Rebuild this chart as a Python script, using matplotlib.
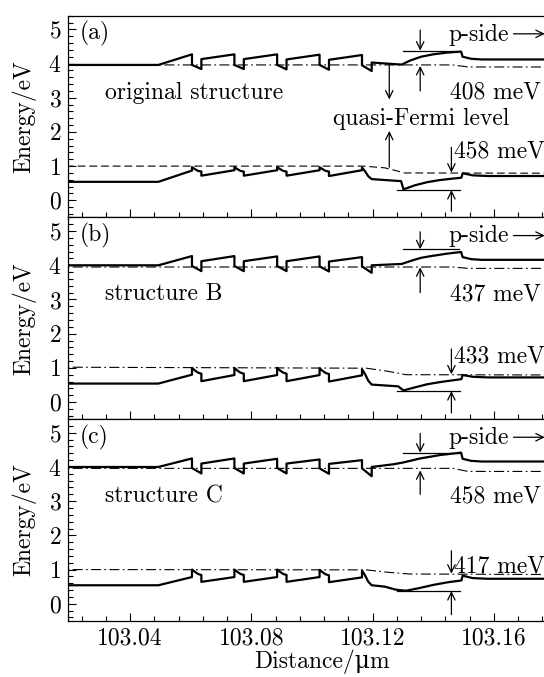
import matplotlib
matplotlib.use('Agg')
import matplotlib.pyplot as plt
from matplotlib.ticker import MultipleLocator, FormatStrFormatter

plt.rcParams['font.family'] = ['cmr10', 'DejaVu Serif']
plt.rcParams['axes.formatter.use_mathtext'] = True
plt.rcParams['font.size'] = 17

# ---- band profiles (x in um, energy in eV) ----
# conduction band, shared x for the MQW part
cb_x_mqw = [103.015, 103.0493, 103.0604, 103.0604, 103.0635, 103.0635, 103.0744, 103.0744,
            103.0775, 103.0775, 103.0885, 103.0885, 103.0916, 103.0916, 103.1025, 103.1025,
            103.1056, 103.1056, 103.1165, 103.1165, 103.1197, 103.1197]
cb_y_mqw_a = [3.96, 3.96, 4.27, 3.96, 3.84, 4.13, 4.27, 3.96, 3.84, 4.13, 4.27, 3.96,
              3.83, 4.12, 4.26, 3.96, 3.82, 4.11, 4.25, 3.95, 3.78, 4.03]
cb_y_mqw_b = [4.00, 4.00, 4.27, 3.98, 3.83, 4.12, 4.27, 3.98, 3.83, 4.12, 4.26, 3.98,
              3.83, 4.12, 4.26, 3.97, 3.82, 4.11, 4.24, 3.97, 3.78, 4.00]
cb_y_mqw_c = [4.00, 4.00, 4.25, 3.97, 3.81, 4.10, 4.25, 3.97, 3.81, 4.10, 4.24, 3.97,
              3.81, 4.10, 4.22, 3.96, 3.80, 4.09, 4.20, 3.96, 3.73, 4.00]
# last barrier + EBL + p-side
cb_x_ebl_a = [103.1296, 103.1324, 103.1360, 103.1400, 103.1445, 103.1492, 103.1497, 103.1525, 103.1560, 103.19]
cb_y_ebl_a = [3.97, 4.09, 4.20, 4.27, 4.32, 4.35, 4.20, 4.14, 4.12, 4.12]
cb_x_ebl_b = [103.1296, 103.1330, 103.1360, 103.1400, 103.1445, 103.1492, 103.1497, 103.1525, 103.1560, 103.19]
cb_y_ebl_b = [4.04, 4.14, 4.22, 4.28, 4.34, 4.39, 4.24, 4.18, 4.16, 4.16]
cb_x_ebl_c = [103.1269, 103.1300, 103.1357, 103.1423, 103.1492, 103.1497, 103.1525, 103.1560, 103.19]
cb_y_ebl_c = [4.08, 4.13, 4.25, 4.35, 4.42, 4.24, 4.18, 4.16, 4.16]

# valence band
vb_x_mqw = [103.015, 103.0493, 103.0604, 103.0604, 103.0614, 103.0624, 103.0635, 103.0635,
            103.0744, 103.0744, 103.0754, 103.0764, 103.0775, 103.0775,
            103.0885, 103.0885, 103.0895, 103.0905, 103.0916, 103.0916,
            103.1025, 103.1025, 103.1035, 103.1045, 103.1056, 103.1056,
            103.1165, 103.1165, 103.1175, 103.1186, 103.1197]
vb_y_mqw_a = [0.54, 0.54, 0.87, 0.97, 0.91, 0.86, 0.84, 0.72,
              0.88, 0.97, 0.91, 0.86, 0.84, 0.72,
              0.88, 0.97, 0.91, 0.86, 0.84, 0.72,
              0.88, 0.97, 0.91, 0.86, 0.84, 0.71,
              0.88, 0.96, 0.85, 0.70, 0.62]
vb_y_mqw_b = [0.54, 0.54, 0.80, 1.00, 0.92, 0.86, 0.83, 0.61,
              0.79, 1.00, 0.92, 0.86, 0.83, 0.61,
              0.79, 1.00, 0.92, 0.86, 0.83, 0.61,
              0.79, 0.99, 0.91, 0.85, 0.82, 0.60,
              0.78, 0.96, 0.82, 0.62, 0.51]
vb_y_mqw_c = [0.54, 0.54, 0.78, 1.00, 0.93, 0.87, 0.84, 0.64,
              0.78, 1.00, 0.93, 0.87, 0.84, 0.64,
              0.78, 1.00, 0.93, 0.87, 0.84, 0.64,
              0.78, 0.99, 0.92, 0.86, 0.83, 0.63,
              0.77, 0.97, 0.83, 0.64, 0.54]
vb_x_ebl_a = [103.1294, 103.1302, 103.1340, 103.1380, 103.1420, 103.1460, 103.1493, 103.1497, 103.1530, 103.1580, 103.19]
vb_y_ebl_a = [0.56, 0.32, 0.44, 0.53, 0.59, 0.63, 0.66, 0.79, 0.73, 0.71, 0.71]
vb_x_ebl_b = [103.1284, 103.1302, 103.1340, 103.1380, 103.1420, 103.1460, 103.1493, 103.1497, 103.1530, 103.1580, 103.19]
vb_y_ebl_b = [0.46, 0.34, 0.43, 0.52, 0.58, 0.63, 0.67, 0.79, 0.74, 0.72, 0.72]
vb_x_ebl_c = [103.1240, 103.1277, 103.1310, 103.1350, 103.1400, 103.1450, 103.1493, 103.1497, 103.1530, 103.1580, 103.19]
vb_y_ebl_c = [0.50, 0.41, 0.38, 0.45, 0.55, 0.63, 0.68, 0.82, 0.75, 0.73, 0.73]

# quasi-Fermi levels
efn_x = [103.015, 103.1465, 103.1515, 103.19]
efn_y_a = [3.96, 3.96, 3.90, 3.90]
efn_y_b = [3.95, 3.95, 3.91, 3.91]
efn_y_c = [3.96, 3.96, 3.87, 3.87]
efp_x_a = [103.015, 103.117, 103.124, 103.128, 103.1305, 103.19]
efp_y_a = [1.00, 1.00, 0.95, 0.86, 0.80, 0.79]
efp_x_b = [103.015, 103.118, 103.125, 103.131, 103.19]
efp_y_b = [1.02, 0.99, 0.90, 0.80, 0.79]
efp_x_c = [103.015, 103.118, 103.125, 103.132, 103.19]
efp_y_c = [1.00, 0.99, 0.92, 0.87, 0.85]

panel_tags = ['(a)', '(b)', '(c)']
structure_names = ['original structure', 'structure B', 'structure C']
cb_gap_labels = ['408 meV', '437 meV', '458 meV']
vb_gap_labels = ['458 meV', '433 meV', '417 meV']
cb_top = [4.38, 4.47, 4.42]      # level of the CB max line
vb_bottom = [0.30, 0.32, 0.37]   # level of the VB min line
efp_at_arrow = [0.81, 0.81, 0.88]
vb_label_y = [1.44, 1.34, 1.10]

panels = [
    (cb_y_mqw_a, cb_x_ebl_a, cb_y_ebl_a, vb_y_mqw_a, vb_x_ebl_a, vb_y_ebl_a, efn_y_a, efp_x_a, efp_y_a, '--'),
    (cb_y_mqw_b, cb_x_ebl_b, cb_y_ebl_b, vb_y_mqw_b, vb_x_ebl_b, vb_y_ebl_b, efn_y_b, efp_x_b, efp_y_b, 'dashdot'),
    (cb_y_mqw_c, cb_x_ebl_c, cb_y_ebl_c, vb_y_mqw_c, vb_x_ebl_c, vb_y_ebl_c, efn_y_c, efp_x_c, efp_y_c, 'dashdot'),
]

dashdot = (0, (9, 3, 1.5, 3))
arr = dict(arrowstyle='->,head_length=0.45,head_width=0.22', lw=0.9, color='black',
           shrinkA=0, shrinkB=0, mutation_scale=12)

fig = plt.figure(figsize=(5.44, 6.77), dpi=100)
bottoms = [0.6789, 0.3809, 0.0830]
axes = []
for i, (cby, cbxe, cbye, vby, vbxe, vbye, efny, efpx, efpy, pstyle) in enumerate(panels):
    ax = fig.add_axes([0.1256, bottoms[i], 0.8936, 0.2979])
    axes.append(ax)
    ax.plot(cb_x_mqw + cbxe, cby + cbye, color='black', lw=1.6, zorder=3)
    ax.plot(vb_x_mqw + vbxe, vby + vbye, color='black', lw=1.6, zorder=3)
    ax.plot(efn_x, efny, color='black', lw=0.8, linestyle=dashdot, zorder=2)
    ax.plot(efpx, efpy, color='black', lw=0.8,
            linestyle=(0, (7, 3.5)) if pstyle == '--' else dashdot, zorder=2)

    ax.set_xlim(103.0196, 103.18)
    ax.set_ylim(-0.5, 5.4)
    ax.xaxis.set_major_locator(MultipleLocator(0.04))
    ax.xaxis.set_minor_locator(MultipleLocator(0.008))
    ax.yaxis.set_major_locator(MultipleLocator(1))
    ax.yaxis.set_minor_locator(MultipleLocator(0.2))
    ax.xaxis.set_major_formatter(FormatStrFormatter('%.2f'))
    ax.tick_params(which='both', direction='in', top=False, right=False, width=0.8)
    ax.tick_params(which='major', length=6, pad=5)
    ax.tick_params(which='minor', length=3.5)
    ax.set_ylabel('Energy/eV')
    ax.yaxis.set_label_coords(-0.066, 0.5)
    for s in ax.spines.values():
        s.set_linewidth(0.9)
    if i < 2:
        ax.tick_params(labelbottom=False)

    ax.text(103.0235, 4.87, panel_tags[i], va='center', ha='left')
    ax.text(103.0317, 3.15, structure_names[i], va='center', ha='left')
    ax.text(103.1450, 4.85, 'p-side', va='center', ha='left')
    ax.annotate('', xy=(103.1768, 4.87), xytext=(103.1665, 4.87), arrowprops=arr)

    # conduction band offset marker
    ax.plot([103.1300, 103.1485], [cb_top[i]] * 2, color='black', lw=0.9)
    ax.annotate('', xy=(103.1357, cb_top[i]), xytext=(103.1357, 4.98), arrowprops=arr)
    ax.annotate('', xy=(103.1357, efny[-1] + 0.03), xytext=(103.1357, 3.2), arrowprops=arr)
    ax.text(103.1456, 3.15, cb_gap_labels[i], va='center', ha='left')

    # valence band offset marker
    ax.plot([103.1280, 103.1490], [vb_bottom[i]] * 2, color='black', lw=0.9)
    ax.annotate('', xy=(103.1460, efp_at_arrow[i]), xytext=(103.1460, 1.55), arrowprops=arr)
    ax.annotate('', xy=(103.1460, vb_bottom[i]), xytext=(103.1460, -0.32), arrowprops=arr)
    ax.text(103.1470, vb_label_y[i], vb_gap_labels[i], va='center', ha='left')

# quasi-Fermi level note in (a)
ax = axes[0]
ax.text(103.1070, 2.38, 'quasi-Fermi level', va='center', ha='left')
ax.annotate('', xy=(103.1255, 2.95), xytext=(103.1255, 3.95), arrowprops=arr)
ax.annotate('', xy=(103.1255, 2.03), xytext=(103.1255, 0.97), arrowprops=arr)

axes[2].set_xlabel('Distance/μm')
axes[2].xaxis.set_label_coords(0.522, -0.14)

fig.savefig('out.png', dpi=100)
